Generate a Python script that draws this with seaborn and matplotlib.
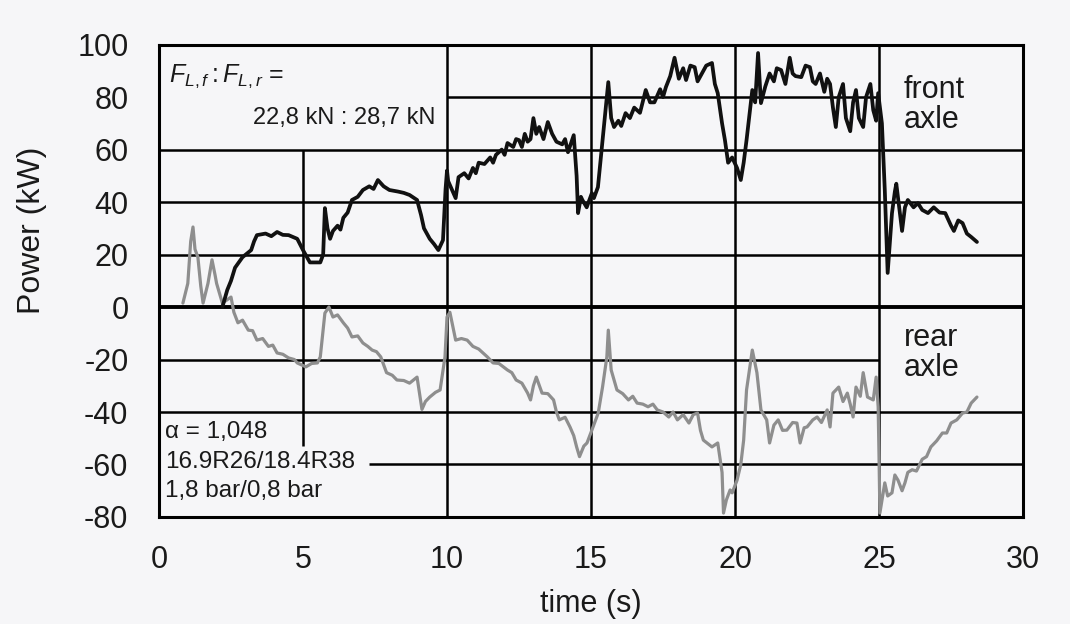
import numpy as np
import pandas as pd
import matplotlib
matplotlib.use("Agg")
import matplotlib.pyplot as plt
import seaborn as sns

# ---------------- data ----------------
front_t = [2.2, 2.37, 2.5, 2.64, 2.9, 3.2, 3.3, 3.4, 3.7, 3.9, 4.1, 4.3, 4.5, 4.8, 5.0,
           5.24, 5.6, 5.7, 5.76, 5.85, 5.94, 6.04, 6.2, 6.3, 6.4, 6.55, 6.7, 6.9, 7.08, 7.3,
           7.45, 7.6, 7.8, 8.0, 8.3, 8.5, 8.7, 8.96, 9.1, 9.2, 9.4, 9.55, 9.7, 9.86, 9.95,
           10.0, 10.04, 10.2, 10.3, 10.4, 10.6, 10.75, 10.9, 11.0, 11.1, 11.3, 11.5, 11.6, 11.7,
           11.9, 12.0, 12.1, 12.3, 12.4, 12.5, 12.6, 12.7, 12.8, 12.9, 13.0, 13.1, 13.2, 13.35,
           13.5, 13.65, 13.8, 14.0, 14.1, 14.2, 14.4, 14.5,
           14.55, 14.65, 14.7, 14.85, 15.03, 15.1, 15.24, 15.4, 15.6, 15.7, 15.8, 15.95, 16.05,
           16.2, 16.35, 16.5, 16.7, 16.9, 17.05, 17.2, 17.4, 17.5, 17.6, 17.75, 17.9, 18.05,
           18.2, 18.3, 18.45, 18.6, 18.7, 18.85, 19.0, 19.2, 19.3, 19.4, 19.55, 19.65, 19.76,
           19.9, 20.07, 20.2, 20.3, 20.4, 20.6, 20.7, 20.8, 20.9, 21.05, 21.2, 21.35, 21.45,
           21.6, 21.75, 21.9, 22.0, 22.1, 22.3, 22.45, 22.6, 22.7, 22.8, 22.95, 23.1, 23.2,
           23.3, 23.4, 23.5, 23.6, 23.75, 23.85, 24.0, 24.1, 24.2, 24.3, 24.45, 24.55, 24.7,
           24.8, 24.9, 24.97, 25.1, 25.2,
           25.3, 25.45, 25.55, 25.6, 25.7, 25.8, 25.9, 26.0, 26.2, 26.35, 26.5, 26.7, 26.9,
           27.1, 27.3, 27.5, 27.6, 27.75, 27.9, 28.05, 28.2, 28.4]
front_p = [0, 6.5, 10, 15, 19, 21.7, 25, 27.4, 28, 27, 28.6, 27.5, 27.4, 26, 21.7,
           17, 17, 20, 37.7, 30, 26, 29, 31, 29.5, 34, 36, 40.8, 42, 44.6, 46,
           45, 48.4, 46, 44.6, 44, 43.5, 42.7, 40.8, 35, 30, 26, 24, 21.7, 25.5, 45,
           52, 48, 44, 41.5, 49.5, 51, 49, 53, 51, 55, 54.5, 57, 55, 58,
           60, 58, 62.5, 61, 64, 63.6, 61, 66, 63, 64, 72, 66, 68.6, 64,
           70.5, 66, 63, 62, 64, 59, 65.5, 50,
           35.8, 42, 40.8, 38, 43.4, 41.5, 45.7, 63.6, 85.7, 72, 68.6, 71, 69,
           73.9, 72, 76, 74, 82.7, 78, 78, 83, 80, 83.8, 88, 95, 87,
           91, 86.5, 92, 91.4, 86, 89, 92, 93, 85, 81.5, 70, 63.6, 55,
           57, 53, 48.4, 55, 63.6, 82.7, 78, 96.8, 77.7, 84, 89, 86, 91,
           90.3, 85, 95, 89, 88, 87.6, 92, 91.4, 86, 85, 89, 82, 87,
           85, 76, 68.6, 80, 85, 72, 67, 78, 82.7, 72, 68.6, 80, 85,
           75, 71, 81.5, 70, 44.6,
           13, 35.8, 44, 47, 38, 29, 38, 40.8, 38, 39.6, 37, 35.8, 38,
           36, 35.8, 31, 29, 33, 32, 28, 26.7, 24.8]

rear_t = [0.83, 1.0, 1.1, 1.18, 1.25, 1.35, 1.45, 1.53, 1.7, 1.84, 1.95, 2.0, 2.2, 2.36,
          2.5, 2.6, 2.74, 2.9, 3.1, 3.25, 3.4, 3.6, 3.8, 3.95, 4.1, 4.3, 4.5, 4.7, 4.8,
          5.1, 5.3, 5.5, 5.6, 5.76, 5.9, 6.04, 6.2, 6.4, 6.55, 6.7, 6.9, 7.08, 7.25, 7.4,
          7.55, 7.7, 7.9, 8.1, 8.26, 8.5, 8.7, 8.96, 9.13, 9.25, 9.4, 9.6, 9.76, 9.93,
          10.0, 10.1, 10.3, 10.5, 10.7, 10.9, 11.1, 11.25, 11.4, 11.6, 11.8, 12.1, 12.25,
          12.4, 12.6, 12.8, 12.9, 13.0, 13.1, 13.3, 13.5, 13.7, 13.8, 13.9, 14.1, 14.27,
          14.4, 14.5, 14.6, 14.75, 14.86, 15.03, 15.25, 15.4, 15.55, 15.6, 15.7, 15.9,
          16.1, 16.3, 16.45, 16.6, 16.8, 16.98, 17.15, 17.3, 17.5, 17.7, 17.85, 18.0,
          18.2, 18.4, 18.55, 18.7, 18.8, 18.9, 19.2, 19.4, 19.55, 19.6, 19.7, 19.83,
          19.9, 20.07, 20.2, 20.3, 20.4, 20.5, 20.6, 20.76, 20.9, 21.1, 21.2, 21.35,
          21.5, 21.65, 21.8, 22.0, 22.15, 22.26, 22.4, 22.5, 22.7, 22.85, 23.0, 23.2,
          23.3, 23.4, 23.6, 23.75, 23.9, 24.0, 24.1, 24.2, 24.35, 24.45, 24.6, 24.8,
          24.9, 24.97, 25.0, 25.03, 25.2, 25.3, 25.45, 25.55, 25.66, 25.8, 25.9, 26.0,
          26.15, 26.3, 26.5, 26.65, 26.8, 27.0, 27.2, 27.35, 27.5, 27.7, 27.9, 28.05,
          28.2, 28.4]
rear_p = [1.5, 9, 25, 30.5, 22, 19, 8, 1.5, 9, 18, 12, 9, 1.5, 2.7,
          3.8, -2, -6, -5, -8.8, -9, -12.6, -12, -15, -14.5, -17.5, -18, -19.4, -20, -21.3,
          -22.8, -21.5, -21.3, -19, -2.3, 0, -3.8, -3, -6, -8, -11.4, -11, -13.7, -15, -16.4,
          -17, -19, -25, -26, -27.8, -28, -29, -26.7, -39, -36, -34.3, -32.5, -31.6, -19,
          -3.8, -2, -12.6, -12, -12.6, -15, -16, -17.5, -19, -21.3, -21.5, -24, -25,
          -27.8, -29, -32.8, -35.4, -30, -26.7, -32.8, -33, -35.4, -40, -43, -42, -45.7,
          -49, -53.3, -57, -53, -51.8, -46.9, -40.4, -30.5, -19, -8.8, -24, -31.6,
          -33, -35.4, -34, -36.6, -37, -38, -37, -39.2, -40, -41.9, -40, -43,
          -41, -44.2, -41, -40.4, -47, -50.7, -53.3, -51.8, -63, -78.5, -73.5, -69.7,
          -70.8, -66, -60, -50.7, -31.6, -24, -16.4, -25, -39.2, -43, -51.8, -45,
          -43, -47, -46.9, -44, -44.2, -51.8, -46, -45.7, -43, -41.9, -44, -39.2,
          -45.7, -32.8, -30.5, -36, -32.8, -37, -41.9, -30.5, -34, -25, -34.3, -35.4,
          -26.7, -38, -57, -78.5, -67, -72, -70.8, -64, -66, -70, -67, -63,
          -62, -62.5, -58, -57, -53.3, -51, -48, -48, -44.2, -43, -40.4, -40,
          -36.6, -34.3]

x_ticks = [0, 5, 10, 15, 20, 25, 30]
y_ticks = [100, 80, 60, 40, 20, 0, -20, -40, -60, -80]

# ---------------- styling ----------------
sns.set_style("white")
plt.rcParams['font.family'] = ['Liberation Sans', 'DejaVu Sans']
plt.rcParams['mathtext.fontset'] = 'custom'
plt.rcParams['mathtext.it'] = 'Liberation Sans:italic'
plt.rcParams['mathtext.rm'] = 'Liberation Sans'

bg = '#f6f6f8'
tc = '#1a1a1a'
fig = plt.figure(figsize=(10.7, 6.24), dpi=100, facecolor=bg)
ax = fig.add_axes([0.1486, 0.1715, 0.8075, 0.757])
ax.set_facecolor(bg)

# grid (partial, as in the printed figure)
glw = 1.8
ax.hlines(80, 10, 25, color='k', lw=glw, zorder=1)
for yv in [60, 40, 20, -40]:
    ax.hlines(yv, 0, 30, color='k', lw=glw, zorder=1)
ax.hlines(0, 0, 30, color='k', lw=2.8, zorder=1)
ax.hlines(-20, 0, 25, color='k', lw=glw, zorder=1)
ax.hlines(-60, 7.3, 30, color='k', lw=glw, zorder=1)
ax.vlines(5, -53, 60, color='k', lw=glw, zorder=1)
for xv in [10, 15, 20, 25]:
    ax.vlines(xv, -80, 100, color='k', lw=glw, zorder=1)

front = pd.DataFrame({'t': front_t, 'P': front_p})
rear = pd.DataFrame({'t': rear_t, 'P': rear_p})
sns.lineplot(data=rear, x='t', y='P', ax=ax, color='#8e8e8e', lw=2.3, zorder=3)
sns.lineplot(data=front, x='t', y='P', ax=ax, color='#111111', lw=2.7, zorder=4)

ax.set_xlim(0, 30)
ax.set_ylim(-80, 100)
ax.set_xticks(x_ticks)
ax.set_yticks(y_ticks)
ax.set_xticklabels([str(v) for v in x_ticks])
ax.set_yticklabels([str(v) for v in y_ticks])
ax.tick_params(axis='both', length=0, labelsize=22, colors=tc)
ax.tick_params(axis='y', pad=22)
ax.tick_params(axis='x', pad=20)
for s in ax.spines.values():
    s.set_color('k')
    s.set_linewidth(2.2)
ax.set_xlabel('time (s)', fontsize=22, color=tc)
ax.set_ylabel('Power (kW)', fontsize=23, color=tc)
ax.xaxis.set_label_coords(0.5, -0.153)
ax.yaxis.set_label_coords(-0.130, 0.607)

ax.text(0.35, 88, r'$F_{L,f}:F_{L,r}$ =', fontsize=18, color=tc, va='center', ha='left')
ax.text(9.6, 72, '22,8 kN : 28,7 kN', fontsize=17, color=tc, va='center', ha='right')
ax.text(25.85, 77, 'front\naxle', fontsize=22, color=tc, va='center', ha='left',
        linespacing=1.0)
ax.text(25.85, -17.5, 'rear\naxle', fontsize=22, color=tc, va='center', ha='left',
        linespacing=1.0)
ax.text(0.2, -47.5, 'α = 1,048', fontsize=17.5, color=tc, va='center', ha='left')
ax.text(0.2, -59, '16.9R26/18.4R38', fontsize=17.5, color=tc, va='center', ha='left')
ax.text(0.2, -70, '1,8 bar/0,8 bar', fontsize=17.5, color=tc, va='center', ha='left')

fig.savefig('out.png', dpi=100, facecolor=bg)
